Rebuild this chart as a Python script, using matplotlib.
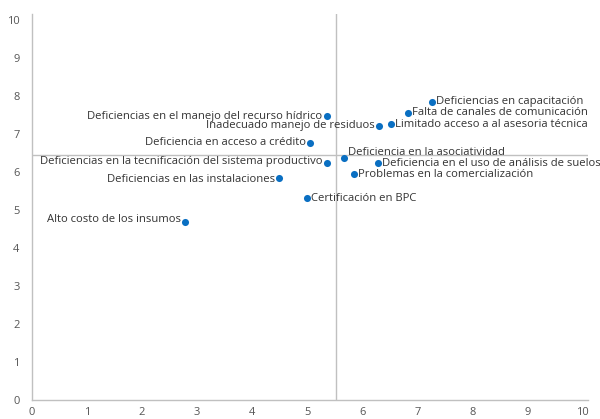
import matplotlib
matplotlib.use("Agg")
import matplotlib.pyplot as plt

plt.rcParams['font.family'] = ['Open Sans', 'DejaVu Sans']

labels = [
    "Deficiencias en capacitación",
    "Falta de canales de comunicación",
    "Limitado acceso a al asesoria técnica",
    "Inadecuado manejo de residuos",
    "Deficiencias en el manejo del recurso hídrico",
    "Deficiencia en acceso a crédito",
    "Deficiencia en la asociatividad",
    "Deficiencias en la tecnificación del sistema productivo",
    "Deficiencia en el uso de análisis de suelos",
    "Problemas en la comercialización",
    "Deficiencias en las instalaciones",
    "Certificación en BPC",
    "Alto costo de los insumos",
]
x_vals = [7.27, 6.83, 6.52, 6.31, 5.35, 5.05, 5.67, 5.35, 6.28, 5.85, 4.49, 4.99, 2.78]
y_vals = [7.84, 7.55, 7.25, 7.21, 7.46, 6.76, 6.37, 6.23, 6.23, 5.93, 5.84, 5.30, 4.67]
sides = ['r', 'r', 'r', 'l', 'l', 'l', 'r', 'l', 'r', 'r', 'l', 'r', 'l']
dy_off = [0, 0, 0, 0, 0, 0, 4, 1, 0, 0, -1, 0, 2]

x_ref = 5.53
y_ref = 6.43

x_ticks = list(range(0, 11))
y_ticks = list(range(0, 11))

fig = plt.figure(figsize=(6.0, 4.19), dpi=100)
ax = fig.add_axes([32/600, 19/419, 556/600, 386/419])

ax.axvline(x_ref, color='#c0c0c0', lw=1, zorder=1)
ax.axhline(y_ref, color='#c0c0c0', lw=1, zorder=1)

ax.scatter(x_vals, y_vals, s=26, color='#0a6fc2', zorder=3, linewidths=0)

fs = 8.1
for lab, x, y, sd, d in zip(labels, x_vals, y_vals, sides, dy_off):
    if sd == 'r':
        ax.annotate(lab, (x, y), xytext=(3.0, d), textcoords='offset points',
                    ha='left', va='center', fontsize=fs, color='#333333')
    else:
        ax.annotate(lab, (x, y), xytext=(-3.0, d), textcoords='offset points',
                    ha='right', va='center', fontsize=fs, color='#333333')

ax.set_xlim(0, 10.1)
ax.set_ylim(0, 10.15)
ax.set_xticks(x_ticks)
ax.set_yticks(y_ticks)
ax.tick_params(length=0, labelsize=8, labelcolor='#555555')
ax.tick_params(axis='y', pad=9)
ax.tick_params(axis='x', pad=5)
for s in ['top', 'right']:
    ax.spines[s].set_visible(False)
for s in ['left', 'bottom']:
    ax.spines[s].set_color('#c0c0c0')
    ax.spines[s].set_linewidth(1)

fig.savefig('out.png', dpi=100)
